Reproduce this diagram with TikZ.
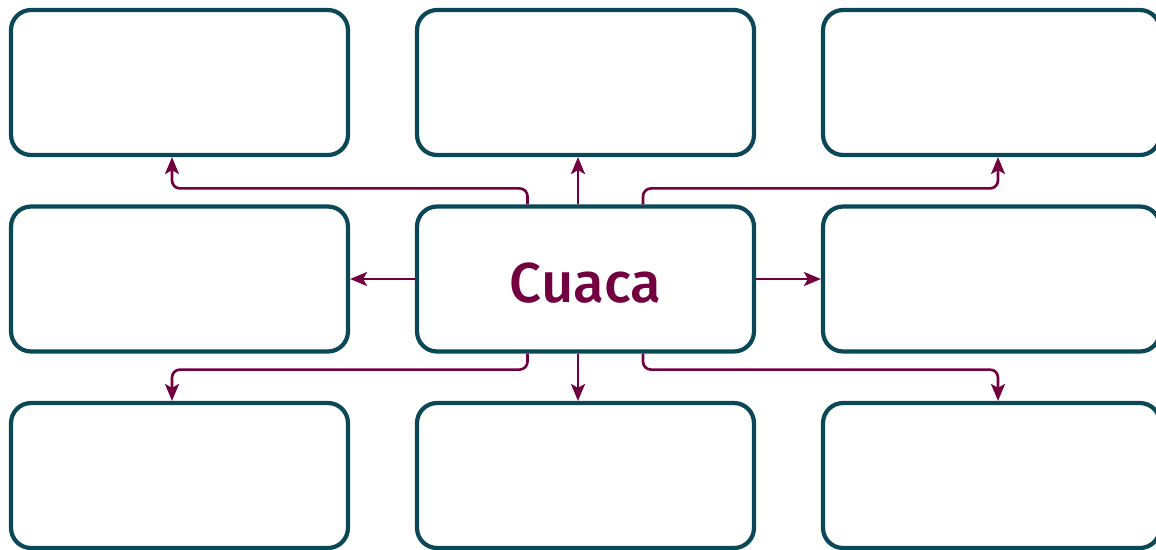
\documentclass[tikz,border=0pt]{standalone}
\usepackage{fontspec}
\newfontfamily\cuacafont{Fira Sans Medium}
\usetikzlibrary{arrows.meta, calc}
\definecolor{boxteal}{RGB}{10,72,87}
\definecolor{cuacapurple}{RGB}{114,0,64}

\begin{document}
\begin{tikzpicture}[x=0.02cm, y=-0.02cm,
box/.style = {draw=boxteal, line width=2.4pt, rounded corners=0.4cm,
	minimum width=6.74cm, minimum height=2.9cm, inner sep=0pt},
link/.style = {draw=cuacapurple, line width=1.5pt, rounded corners=0.16cm,
	-{Stealth[length=0.34cm, width=0.28cm, inset=0.08cm]}}
]
\useasboundingbox (0, 0) rectangle (1156, 549);
% boxes
\node[box] (tl) at (179.5, 82.5) {};
\node[box] (tm) at (585.5, 82.5) {};
\node[box] (tr) at (991.5, 82.5) {};
\node[box] (ml) at (179.5, 279) {};
\node[box, text=cuacapurple, font=\cuacafont\fontsize{32}{32}\selectfont,
	text height=0.95cm, text depth=0pt] (cuaca) at (585.5, 279) {Cuaca};
\node[box] (mr) at (991.5, 279) {};
\node[box] (bl) at (179.5, 475.5) {};
\node[box] (bm) at (585.5, 475.5) {};
\node[box] (br) at (991.5, 475.5) {};
% links
\draw[link] ([xshift=-1.16cm]cuaca.north) -- ++(0, -16) -| ([xshift=-0.15cm]tl.south);
\draw[link] ([xshift=-0.15cm]cuaca.north) -- ([xshift=-0.15cm]tm.south);
\draw[link] ([xshift=1.15cm]cuaca.north) -- ++(0, -16) -| ([xshift=0.13cm]tr.south);
\draw[link] (cuaca.west) -- (ml.east);
\draw[link] (cuaca.east) -- (mr.west);
\draw[link] ([xshift=-1.16cm]cuaca.south) -- ++(0, 16) -| ([xshift=-0.15cm]bl.north);
\draw[link] ([xshift=-0.15cm]cuaca.south) -- ([xshift=-0.15cm]bm.north);
\draw[link] ([xshift=1.15cm]cuaca.south) -- ++(0, 16) -| ([xshift=0.13cm]br.north);
\end{tikzpicture}
\end{document}
